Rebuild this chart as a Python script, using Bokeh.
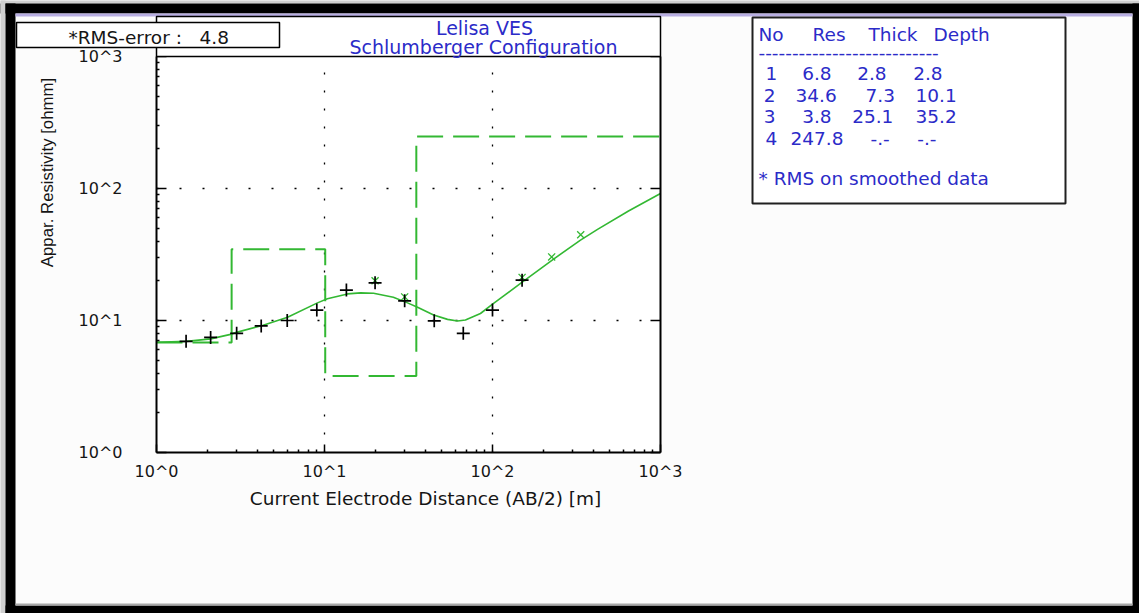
import math
from bokeh.plotting import figure
from bokeh.models import FixedTicker, LogAxis, Range1d, LinearScale
from bokeh.core.properties import value
from bokeh.embed import file_html
from bokeh.resources import INLINE

# ---------------------------------------------------------------- data
# Field sounding: half electrode spacing AB/2 [m] and apparent resistivity [ohm m]
ab2_obs = [1.5, 2.1, 3.0, 4.2, 6.0, 9.0, 13.5, 20.0, 30.0, 45.0, 67.0, 100.0, 150.0]
rho_obs = [6.95, 7.45, 8.0, 9.1, 10.0, 12.0, 17.0, 19.3, 14.1, 9.95, 8.0, 12.0, 20.2]

# Smoothed readings used for the RMS
ab2_smooth = [20.0, 30.0, 150.0, 225.0, 335.0]
rho_smooth = [20.0, 15.1, 21.2, 30.3, 44.6]

# Response curve of the fitted layered model
ab2_fit = [1.0, 1.51, 2.10, 2.76, 2.99, 4.27, 6.03, 9.08, 10.4, 13.7,
           16.4, 19.6, 25.7, 31.2, 35.8, 44.6, 54.0, 61.9, 69.0, 84.8,
           101.0, 151.0, 231.0, 334.0, 422.0, 645.0, 1000.0]
rho_fit = [6.84, 6.95, 7.26, 7.85, 8.13, 9.17, 10.6, 13.6, 14.6, 15.9,
           16.2, 16.1, 15.0, 13.6, 12.6, 11.0, 10.2, 9.9, 10.1, 11.3,
           13.4, 19.6, 29.2, 40.6, 49.0, 67.5, 91.6]

# Layered model
layer_no = [1, 2, 3, 4]
layer_res = [6.8, 34.6, 3.8, 247.8]
layer_thick = [2.8, 7.3, 25.1]
layer_depth = [2.8, 10.1, 35.2]
rms_error = 4.8

decades = [1, 10, 100, 1000]
decade_labels = ["10^0", "10^1", "10^2", "10^3"]

# ---------------------------------------------------------------- layout
W, H = 1139, 613
FL, FR, FT, FB = 156, 660, 56, 452          # plot box edges (page px)
DX = (FR - FL) / 3                          # px per decade
DY = (FB - FT) / 3

GREEN = "#33b833"
BLUE = "#2b2bc8"
INK = "#151515"
FONT = "DejaVu Sans"
NBSP = "\u00a0"

# the frame covers the whole page; the log box sits inside it
p = figure(width=W, height=H, x_axis_type="log", y_axis_type="log",
           x_axis_location=None, y_axis_location=None,
           x_range=Range1d(10 ** (-FL / DX), 10 ** ((W - FL) / DX)),
           y_range=Range1d(10 ** (-(H - FB) / DY), 10 ** (FB / DY)),
           output_backend="svg", toolbar_location=None, min_border=0,
           background_fill_color="#fcfcfc", border_fill_color="#fcfcfc",
           outline_line_color=None)
p.xgrid.visible = False
p.ygrid.visible = False

# page-pixel coordinates for the surrounding panels (y grows downward)
p.extra_x_ranges = {"px": Range1d(0, W)}
p.extra_y_ranges = {"px": Range1d(H, 0)}
p.extra_x_scales = {"px": LinearScale()}
p.extra_y_scales = {"px": LinearScale()}
PX = dict(x_range_name="px", y_range_name="px")

minor = [m * d for d in decades[:-1] for m in range(2, 10)]


def make_axis(tick_in, standoff, loc, labels=True):
    ax = LogAxis(ticker=FixedTicker(ticks=decades, minor_ticks=minor if labels else []),
                 fixed_location=loc, bounds=(1, 1000))
    ax.major_label_overrides = dict(zip(decades, decade_labels))
    ax.axis_line_color = "black"
    ax.axis_line_width = 2
    ax.major_tick_in = tick_in
    ax.major_tick_out = 0
    ax.major_tick_line_width = 1.5
    ax.major_tick_line_color = "black"
    ax.minor_tick_in = 3
    ax.minor_tick_out = 0
    ax.minor_tick_line_width = 1.5
    ax.minor_tick_line_color = "black" if labels else None
    ax.major_label_standoff = standoff
    ax.major_label_text_font = FONT
    ax.major_label_text_font_size = "16px"
    ax.major_label_text_color = INK
    if not labels:
        ax.major_label_text_alpha = 0
    return ax


# white plotting box
p.quad(left=[FL], right=[FR], top=[FT], bottom=[FB], fill_color="white",
       line_color=None, **PX)

# dotted grid at the inner decades
inner = decades[1:-1]
p.multi_line([[d, d] for d in inner], [[1, 1000]] * len(inner),
             line_color="black", line_width=1.3, line_dash="2 16")
p.multi_line([[1, 1000]] * len(inner), [[d, d] for d in inner],
             line_color="black", line_width=1.3, line_dash="2 21")

# ---------------------------------------------------------------- marks
edges = [1] + layer_depth + [1000]
step_x, step_y = [], []
for i, r in enumerate(layer_res):
    step_x += [edges[i], edges[i + 1]]
    step_y += [r, r]
p.line(step_x, step_y, line_color=GREEN, line_width=2, line_dash="26 10")

p.line(ab2_fit, rho_fit, line_color=GREEN, line_width=1.6)
p.scatter(ab2_smooth, rho_smooth, marker="x", size=10, line_color=GREEN, line_width=1.3)
p.scatter(ab2_obs, rho_obs, marker="cross", size=13, line_color="black", line_width=1.7)

p.add_layout(make_axis(8, 9, 1), "below")
p.add_layout(make_axis(10, 34, 1), "left")
p.add_layout(make_axis(10, 0, 1000, labels=False), "right")


# ---------------------------------------------------------------- page furniture
def put_box(x0, y0, x1, y1, fill, line=None, lw=1):
    p.quad(left=[x0], right=[x1], top=[y0], bottom=[y1], fill_color=fill,
           line_color=line, line_width=lw, level="annotation", **PX)


def put_text(texts, xs, ys, size="18.5px", color=BLUE, align="left",
             font=FONT, angle=0.0):
    # ys are the vertical centres of the text lines
    p.text(x=xs, y=ys, text=texts, text_font=value(font),
           text_font_size=value(size), text_color=color, text_align=align,
           text_baseline="middle", angle=angle, level="annotation", **PX)


# window frame
put_box(0, 0, W, 3, "#cfcfcf")
put_box(0, 3, W, 13, "black")
put_box(0, 0, 5, H, "#cfcfcf")
put_box(5, 3, 15, H, "black")
put_box(1132, 3, W, H, "black")
put_box(5, 605, W, H, "black")
put_box(15, 13, 1132, 16, "#b8aee2")
put_box(15, 603, 1132, 605, "#a8a8a8")

# title box, RMS box, model table box
put_box(FL, 16, FR, FT, "white", "black", 1.5)
put_box(16, 22, 279, 47, "white", "black", 1.5)
put_box(752, 17, 1065, 203, "white", "#202020", 2)

put_text(["Lelisa VES", "Schlumberger Configuration"], [484, 483], [27.5, 46],
         size="19px", align="center")
put_text([f"*RMS-error :{NBSP * 3}{rms_error}"], [68], [37], color=INK)

put_text(["Current Electrode Distance (AB/2) [m]"], [425], [497.5], color=INK,
         align="center")
put_text(["Appar. Resistivity [ohmm]"], [47], [172], size="16.8px", color=INK,
         align="center", font="Liberation Sans", angle=math.pi / 2)

# table of layers
header = ["No", "Res", "Thick", "Depth"]
put_text(header, [758, 812, 868, 933], [33.5] * 4)
put_text(["-" * 27], [758], [51.8])

cell_x = [[765, 801.7, 856.7, 912.7],
          [763.3, 795, 865, 915],
          [763.3, 801.7, 851.7, 915],
          [765, 790, 870, 916.7]]
row_y = [73, 94.5, 116, 137.5]
tx, ty, tt = [], [], []
for i, n in enumerate(layer_no):
    thick = f"{layer_thick[i]:.1f}" if i < len(layer_thick) else "-.-"
    depth = f"{layer_depth[i]:.1f}" if i < len(layer_depth) else "-.-"
    cells = [str(n), f"{layer_res[i]:.1f}", thick, depth]
    tt += cells
    tx += cell_x[i]
    ty += [row_y[i]] * 4
put_text(tt, tx, ty)
put_text(["* RMS on smoothed data"], [758], [178])

open("out.html", "w").write(file_html(p, INLINE))
